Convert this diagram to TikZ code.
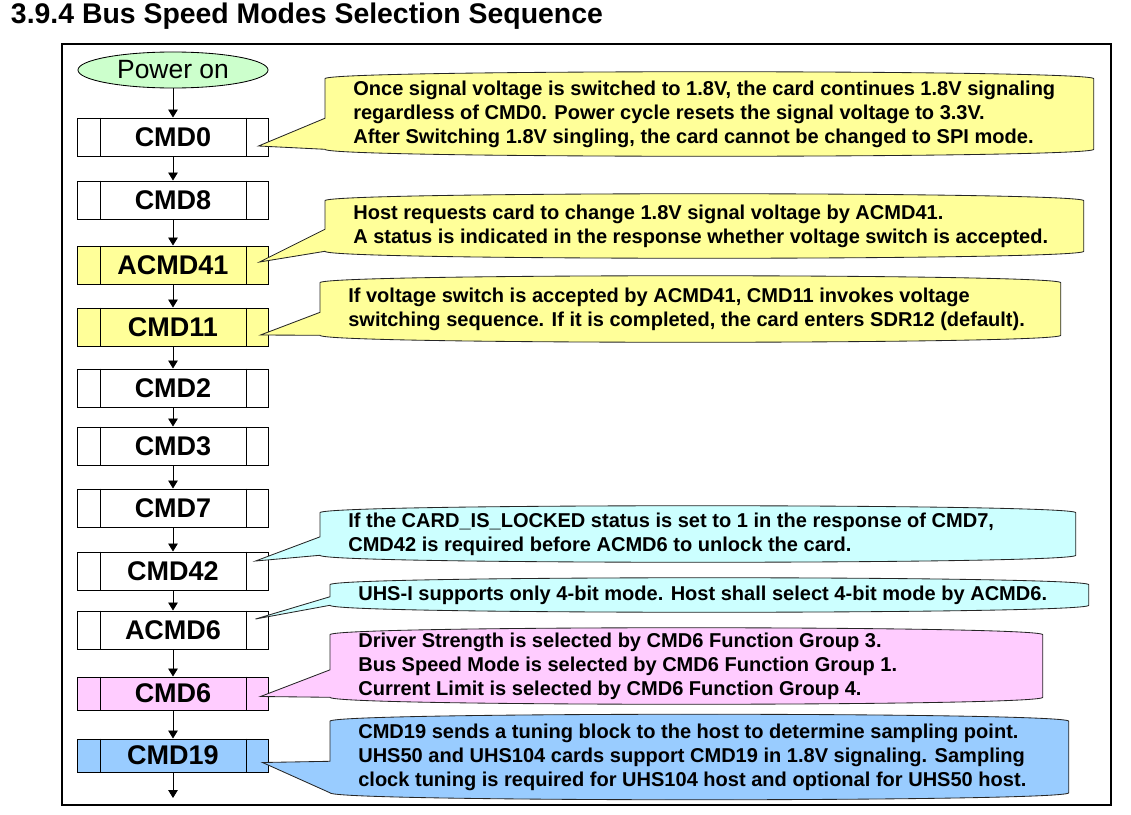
\documentclass[tikz,border=0pt]{standalone}
\usepackage{fontspec}
\setmainfont{Liberation Sans}
\usetikzlibrary{shapes.geometric,arrows.meta,calc,positioning}

\definecolor{pwrgreen}{HTML}{CCFFCC}
\definecolor{hiyellow}{HTML}{FFFF99}
\definecolor{hicyan}{HTML}{CCFFFF}
\definecolor{hipink}{HTML}{FFCCFF}
\definecolor{hiblue}{HTML}{99CCFF}

\pgfdeclarelayer{bubbles}
\pgfdeclarelayer{bubbletext}
\pgfsetlayers{main,bubbles,bubbletext}

% balloon round a remark node: #1 node, #2 tip, #3 colour
\newcommand{\bubble}[3]{%
  \begin{pgfonlayer}{bubbles}
    \draw[bubbleline, fill=#3] ($(#1.north west)+(0,7)$)
      .. controls ($(#1.north west)+(0,-2.3)$) and ($(#1.north east)+(0,-2.3)$) .. ($(#1.north east)+(0,7)$)
      -- ($(#1.south east)+(0,-7)$)
      .. controls ($(#1.south east)+(0,2.3)$) and ($(#1.south west)+(0,2.3)$) .. ($(#1.south west)+(0,-7)$)
      -- (#2) -- ($(#1.south west)!0.45!(#1.north west)$) -- cycle;
  \end{pgfonlayer}}

\begin{document}
\begin{tikzpicture}[
    x=0.025cm, y=-0.025cm,
    cmdbox/.style={draw, line width=0.7pt, fill=white, minimum width=4.75cm,
      minimum height=0.95cm, inner sep=0pt, font=\fontsize{19.2}{21}\selectfont\bfseries},
    shortbox/.style={cmdbox, minimum height=0.825cm},
    flow/.style={line width=0.6pt, -{Triangle[length=0.2cm,width=0.24cm]}},
    remark/.style={align=flush left, inner xsep=0.7cm, inner ysep=0pt, anchor=west,
      font=\fontsize{14.25}{17.1}\selectfont\bfseries},
    bubbleline/.style={line width=0.6pt, draw=black!85}
  ]
  \useasboundingbox (0,0) rectangle (1131,815);

  \node[anchor=west, font=\fontsize{20.2}{22}\selectfont\bfseries] (title) at (6,16)
    {3.9.4 Bus Speed Modes Selection Sequence};
  \draw[line width=1.5pt] (62,44) rectangle (1111,805);

  % flow of commands
  \node[ellipse, draw, line width=0.6pt, fill=pwrgreen, minimum width=4.75cm,
    minimum height=0.9cm, inner sep=0pt, font=\fontsize{18.8}{20}\selectfont] (pwr) at (173,70) {Power on};
  \node[cmdbox] (cmd0) at (173,137) {CMD0};
  \node[cmdbox] (cmd8) at (173,200) {CMD8};
  \node[cmdbox, fill=hiyellow] (acmd41) at (173,265) {ACMD41};
  \node[cmdbox, fill=hiyellow] (cmd11) at (173,327) {CMD11};
  \node[cmdbox] (cmd2) at (173,388) {CMD2};
  \node[cmdbox] (cmd3) at (173,446) {CMD3};
  \node[cmdbox] (cmd7) at (173,508) {CMD7};
  \node[cmdbox] (cmd42) at (173,571) {CMD42};
  \node[cmdbox] (acmd6) at (173,630) {ACMD6};
  \node[shortbox, fill=hipink] (cmd6) at (173,693.5) {CMD6};
  \node[shortbox, fill=hiblue] (cmd19) at (173,755.5) {CMD19};
  \coordinate (done) at (173,798);

  \foreach \b in {cmd0,cmd8,acmd41,cmd11,cmd2,cmd3,cmd7,cmd42,acmd6,cmd6,cmd19} {
    \draw[line width=0.7pt] ($(\b.north west)+(23.5,0)$) -- ($(\b.south west)+(23.5,0)$);
    \draw[line width=0.7pt] ($(\b.north east)+(-22.5,0)$) -- ($(\b.south east)+(-22.5,0)$);
  }

  \draw[flow] (pwr) -- (cmd0);
  \draw[flow] (cmd0) -- (cmd8);
  \draw[flow] (cmd8) -- (acmd41);
  \draw[flow] (acmd41) -- (cmd11);
  \draw[flow] (cmd11) -- (cmd2);
  \draw[flow] (cmd2) -- (cmd3);
  \draw[flow] (cmd3) -- (cmd7);
  \draw[flow] (cmd7) -- (cmd42);
  \draw[flow] (cmd42) -- (acmd6);
  \draw[flow] (acmd6) -- (cmd6);
  \draw[flow] (cmd6) -- (cmd19);
  \draw[flow] (cmd19) -- (done);

  % remarks
  \begin{pgfonlayer}{bubbletext}
  \node[remark, text width=17.8cm, minimum height=2.1cm] (r0) at (325,114)
    {Once signal voltage is switched to 1.8V, the card continues 1.8V signaling\\
     regardless of CMD0. Power cycle resets the signal voltage to 3.3V.\\
     After Switching 1.8V singling, the card cannot be changed to SPI mode.};
  \node[remark, text width=17.55cm, minimum height=1.6cm] (r41) at (325,226)
    {Host requests card to change 1.8V signal voltage by ACMD41.\\
     A status is indicated in the response whether voltage switch is accepted.};
  \node[remark, text width=17.1cm, minimum height=1.65cm] (r11) at (320,309)
    {If voltage switch is accepted by ACMD41, CMD11 invokes voltage\\
     switching sequence. If it is completed, the card enters SDR12 (default).};
  \node[remark, text width=17.475cm, minimum height=1.4cm] (r42) at (320,534)
    {If the CARD\_IS\_LOCKED status is set to 1 in the response of CMD7,\\
     CMD42 is required before ACMD6 to unlock the card.};
  \node[remark, text width=17.55cm, minimum height=0.85cm] (ra6) at (330,595)
    {UHS-I supports only 4-bit mode. Host shall select 4-bit mode by ACMD6.};
  \node[remark, text width=16.4cm, minimum height=1.9cm] (r6) at (330,666)
    {Driver Strength is selected by CMD6 Function Group 3.\\
     Bus Speed Mode is selected by CMD6 Function Group 1.\\
     Current Limit is selected by CMD6 Function Group 4.};
  \node[remark, text width=17.05cm, minimum height=2.125cm] (r19) at (330,757)
    {CMD19 sends a tuning block to the host to determine sampling point.\\
     UHS50 and UHS104 cards support CMD19 in 1.8V signaling. Sampling\\
     clock tuning is required for UHS104 host and optional for UHS50 host.};
  \end{pgfonlayer}

  \coordinate (t0) at ($(cmd0.east)+(-10,9)$);
  \coordinate (t41) at ($(acmd41.east)+(-9,-3)$);
  \coordinate (t11) at ($(cmd11.east)+(-8,8)$);
  \coordinate (t42) at ($(cmd42.east)+(-13,-10)$);
  \coordinate (ta6) at ($(acmd6.east)+(-13,-11)$);
  \coordinate (t6) at ($(cmd6.east)+(-8,3)$);
  \coordinate (t19) at ($(cmd19.east)+(-6,7)$);

  \bubble{r0}{t0}{hiyellow}
  \bubble{r41}{t41}{hiyellow}
  \bubble{r11}{t11}{hiyellow}
  \bubble{r42}{t42}{hicyan}
  \bubble{ra6}{ta6}{hicyan}
  \bubble{r6}{t6}{hipink}
  \bubble{r19}{t19}{hiblue}
\end{tikzpicture}
\end{document}
